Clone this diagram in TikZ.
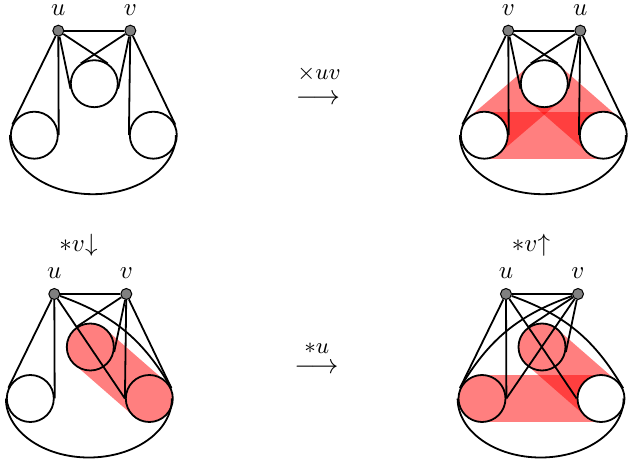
\documentclass[tikz,border=0pt]{standalone}
\usetikzlibrary{calc}
\pgfdeclarelayer{background}
\pgfsetlayers{background,main}

\begin{document}
\begin{tikzpicture}[x=0.4pt,y=0.4pt,line width=0.72pt,
    every label/.style={inner sep=0.5pt},label distance=2.8pt,
    vert/.style={circle,draw,fill=gray,inner sep=0pt,minimum size=4.4pt,line width=0.4pt},
    blob/.style={circle,draw,inner sep=0pt,minimum size=18.8pt},
    bond/.style={red,opacity=0.5,line width=18.8pt,line cap=round},
    op/.style={anchor=base,inner sep=0pt}]
\useasboundingbox (0,0) rectangle (635,468);

% vertices, sets and the edges that all four graphs share
\foreach \n/\x/\y/\a/\b/\ft/\fl/\fr in {1/58.3/437.3/u/v/white/white/white,
    2/508.3/437.3/v/u/white/white/white, 3/54.3/174/u/v/none/white/none,
    4/506/174/u/v/none/none/white} {
  \node[vert,label=above:$\a$] (p\n) at (\x,\y) {};
  \node[vert,label=above:$\b$] (q\n) at ($(p\n)+(72,0)$) {};
  \node[blob,fill=\ft] (T\n) at ($(p\n)+(36,-53)$) {};
  \node[blob,fill=\fl] (L\n) at ($(p\n)+(-24,-104.5)$) {};
  \node[blob,fill=\fr] (R\n) at ($(p\n)+(95,-104.5)$) {};
  \draw (p\n) -- (q\n);
  \draw (p\n) -- (tangent cs:node=L\n,point={(p\n)},solution=1)
        (p\n) -- (tangent cs:node=L\n,point={(p\n)},solution=2);
  \draw (q\n) -- (tangent cs:node=T\n,point={(q\n)},solution=1)
        (q\n) -- (tangent cs:node=T\n,point={(q\n)},solution=2);
  \draw (L\n.west) arc[start angle=180,end angle=360,x radius=83,y radius=59];
}

% the remaining edges
\foreach \n in {1,2} {
  \draw (p\n) -- (tangent cs:node=T\n,point={(p\n)},solution=1)
        (p\n) -- (tangent cs:node=T\n,point={(p\n)},solution=2);
  \draw (q\n) -- (tangent cs:node=R\n,point={(q\n)},solution=1)
        (q\n) -- (tangent cs:node=R\n,point={(q\n)},solution=2);
}
\draw (q3) -- (tangent cs:node=R3,point={(q3)},solution=1)
      (q3) -- (tangent cs:node=R3,point={(q3)},solution=2);
\draw (p3) -- (R3.west) (p3) to[bend left=20] (R3.25);
\draw (p4) -- (R4.west) (p4) to[bend left=20] (R4.25);
\draw (q4) -- (L4.east) (q4) to[bend right=20] (L4.155);

% complete joins between the sets
\begin{pgfonlayer}{background}
  \draw[bond] (L2.center) -- (R2.center);
  \draw[bond] (T2.center) -- (L2.center);
  \draw[bond] (T2.center) -- (R2.center);
  \draw[bond] (T3.center) -- (R3.center);
  \draw[bond] (T4.center) -- (R4.center);
  \draw[bond] (L4.center) -- (R4.center);
\end{pgfonlayer}

% the operations
\node[op,font=\fontsize{11}{13}\selectfont] (pivot) at (318,363.5) {$\longrightarrow$};
\node[op,font=\small] (pivotlab) at (319,388) {$\times uv$};
\node[op,font=\fontsize{11}{13}\selectfont] (locu) at (316.5,95) {$\longrightarrow$};
\node[op,font=\small] (loculab) at (316.7,115) {$*u$};
\node[op] (locvd) at (78.5,216.2) {$*v\mathord{\downarrow}$};
\node[op] (locvu) at (531,216.2) {$*v\mathord{\uparrow}$};
\end{tikzpicture}
\end{document}
